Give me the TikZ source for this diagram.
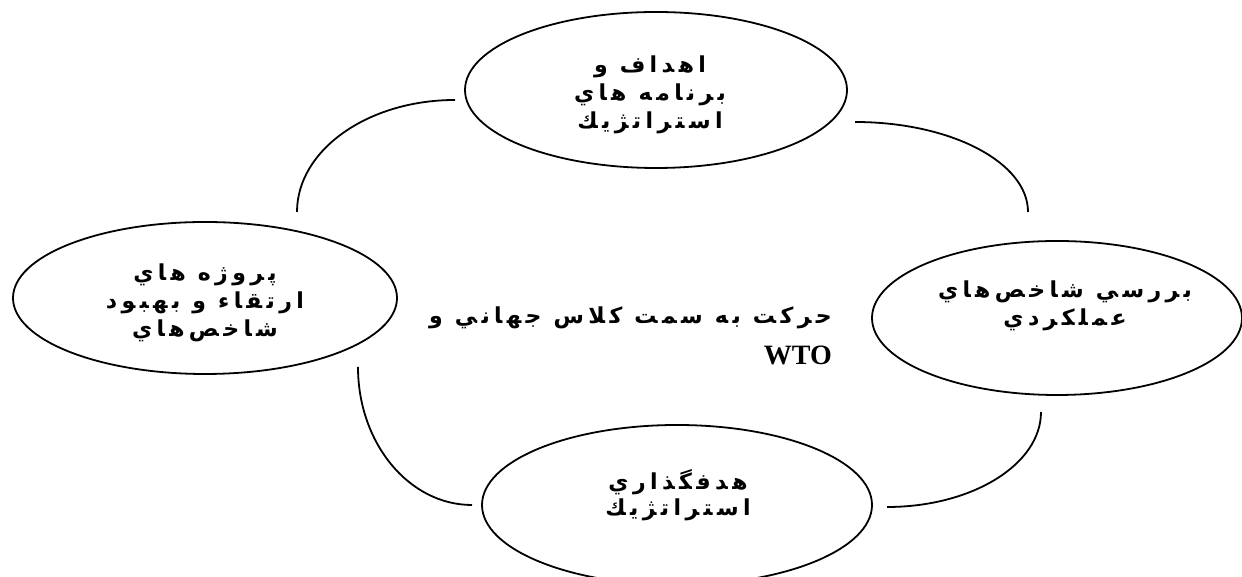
\documentclass[tikz,border=0pt]{standalone}
\usepackage{fontspec}
\usetikzlibrary{shapes.geometric}
\TeXXeTstate=1
\newfontfamily\fa[Script=Arabic,LetterSpace=20]{DejaVu Sans}
\newfontfamily\wtofont{Liberation Serif}
\tikzset{
  oval/.style={draw=black, line width=1.8pt, ellipse, inner sep=0pt},
  fatext/.style={font=\fa\bfseries\fontsize{22}{28}\selectfont, align=center, inner sep=0pt},
  link/.style={draw=black, line width=1.8pt}
}
\begin{document}
\begin{tikzpicture}[x=1pt,y=1pt]
\useasboundingbox (0,0) rectangle (1242,577);
% ellipses
\node[oval, minimum width=382pt, minimum height=156pt] (top) at (656,487) {};
\node[oval, minimum width=384pt, minimum height=152pt] (left) at (205,279) {};
\node[oval, minimum width=370pt, minimum height=154pt] (right) at (1057,259) {};
\node[oval, minimum width=390pt, minimum height=160pt] (bottom) at (677,72) {};
% texts
\node[fatext] (toptext) at (650,482) {\beginR اهداف و\endR\\\beginR برنامه هاي\endR\\\beginR استراتژيك\endR};
\node[fatext] (lefttext) at (205,274) {\beginR پروژه هاي\endR\\\beginR ارتقاء و بهبود\endR\\\beginR شاخص‌هاي\endR};
\node[fatext] (righttext) at (1065,271) {\beginR بررسي شاخص‌هاي\endR\\\beginR عملكردي\endR};
\node[fatext, font=\fa\bfseries\fontsize{22}{26}\selectfont] (bottomtext) at (678,82) {\beginR هدفگذاري\endR\\\beginR استراتژيك\endR};
\node[fatext, anchor=east] (center1) at (832,259) {\beginR حركت به سمت كلاس جهاني و\endR};
\node[anchor=east, inner sep=0pt, font=\wtofont\bfseries\fontsize{28}{30}\selectfont] (center2) at (832,222) {WTO};
% arc end points
\coordinate (a1s) at (297,365);
\coordinate (a2s) at (855,455);
\coordinate (a3s) at (1041,165);
\coordinate (a4s) at (358,210);
\draw[link] (a1s) arc[start angle=180, end angle=90, x radius=158, y radius=112];
\draw[link] (a2s) arc[start angle=90, end angle=0, x radius=173, y radius=90];
\draw[link] (a3s) arc[start angle=0, end angle=-90, x radius=154, y radius=95];
\draw[link] (a4s) arc[start angle=180, end angle=270, x radius=114, y radius=138];
\end{tikzpicture}
\end{document}
